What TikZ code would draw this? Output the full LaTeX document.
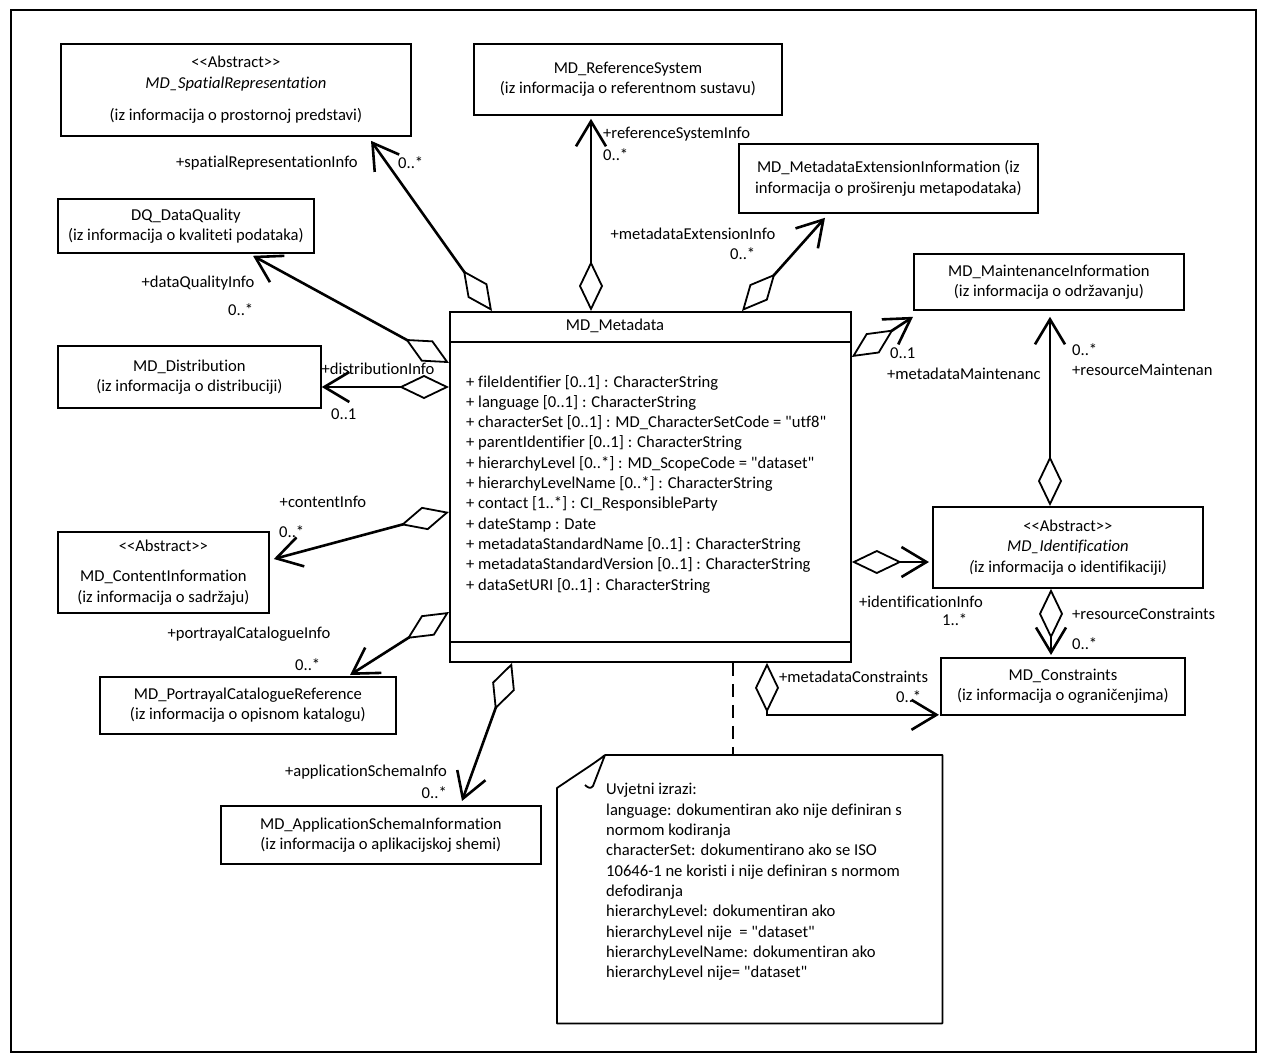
\documentclass[tikz,border=0pt]{standalone}
\usepackage{fontspec}
\setmainfont{Carlito}[Ligatures={TeXOff,NoCommon}]
\usetikzlibrary{arrows.meta,calc}
\begin{document}
\begin{tikzpicture}[x=1pt,y=-1pt,
  font=\fontsize{16.6}{20.3}\selectfont,
  box/.style={draw, line width=1.8pt, anchor=north west, inner sep=0pt, align=center},
  conn/.style={line width=2.6pt},
  agg/.style={conn, {Diamond[length=50pt,width=24pt,fill=white,line width=1.8pt]}-{Straight Barb[length=25pt,width=30pt,line width=2.6pt]}},
  lbl/.style={inner sep=0pt},
]
\useasboundingbox (0,0) rectangle (1262,1061);
\draw[line width=1.5pt] (11,10) rectangle (1256,1052);

% class boxes
\node[box, minimum width=350pt, minimum height=92pt] (spatial) at (60,43)
  {<<Abstract>>\\ \textit{MD\_SpatialRepresentation}\\[12pt] (iz informacija o prostornoj predstavi)};
\node[box, minimum width=308pt, minimum height=71pt] (refsys) at (473,43)
  {MD\_ReferenceSystem\\ (iz informacija o referentnom sustavu)};
\node[box, minimum width=299pt, minimum height=69pt] (ext) at (738,143)
  {MD\_MetadataExtensionInformation (iz\\ informacija o proširenju metapodataka)};
\node[box, minimum width=256pt, minimum height=54pt] (dq) at (57,198)
  {DQ\_DataQuality\\ (iz informacija o kvaliteti podataka)};
\node[box, minimum width=270pt, minimum height=56pt] (maint) at (913,253)
  {MD\_MaintenanceInformation\\ (iz informacija o održavanju)};
\node[box, minimum width=263pt, minimum height=62pt] (dist) at (57,345)
  {MD\_Distribution\\ (iz informacija o distribuciji)};
\node[box, minimum width=211pt, minimum height=81pt] (content) at (57,531)
  {<<Abstract>>\\[10pt] MD\_ContentInformation\\ (iz informacija o sadržaju)};
\node[box, minimum width=296pt, minimum height=57pt] (portr) at (99,676)
  {MD\_PortrayalCatalogueReference\\ (iz informacija o opisnom katalogu)};
\node[box, minimum width=320pt, minimum height=58pt] (appsch) at (220,805)
  {MD\_ApplicationSchemaInformation\\ (iz informacija o aplikacijskoj shemi)};
\node[box, minimum width=270pt, minimum height=81pt] (ident) at (932,506)
  {<<Abstract>>\\ \textit{MD\_Identification}\\ \textit{(}iz informacija o identifikaciji\textit{)}};
\node[box, minimum width=244pt, minimum height=57pt] (constr) at (940,657)
  {MD\_Constraints\\ (iz informacija o ograničenjima)};

% MD_Metadata class
\node[box, minimum width=401pt, minimum height=350pt] (meta) at (449,311) {};
\draw[line width=1.8pt] ($(meta.north west)+(0,31)$) -- ($(meta.north east)+(0,31)$);
\draw[line width=1.8pt] ($(meta.south west)+(0,-21)$) -- ($(meta.south east)+(0,-21)$);
\node[lbl] (metatitle) at (615,326) {MD\_Metadata};
\node[lbl, anchor=west, align=left] (metaattr) at (466,484) {%
+ fileIdentifier [0..1] : CharacterString\\
+ language [0..1] : CharacterString\\
+ characterSet [0..1] : MD\_CharacterSetCode = "utf8"\\
+ parentIdentifier [0..1] : CharacterString\\
+ hierarchyLevel [0..*] : MD\_ScopeCode = "dataset"\\
+ hierarchyLevelName [0..*] : CharacterString\\
+ contact [1..*] : CI\_ResponsibleParty\\
+ dateStamp : Date\\
+ metadataStandardName [0..1] : CharacterString\\
+ metadataStandardVersion [0..1] : CharacterString\\
+ dataSetURI [0..1] : CharacterString};

% note
\node[inner sep=0pt, minimum width=385pt, minimum height=268pt, anchor=north west] (note) at (557,755) {};
\draw[line width=1.8pt, line join=round]
  ($(note.north west)+(48,0)$) -- (note.north east) -- (note.south east) -- (note.south west)
  -- ($(note.north west)+(0,33)$) .. controls ($(note.north west)+(22,18)$) and ($(note.north west)+(38,8)$) .. ($(note.north west)+(48,0)$)
  -- ($(note.north west)+(36,31)$) .. controls ($(note.north west)+(34,34)$) and ($(note.north west)+(31,33)$) .. ($(note.north west)+(28,30)$);
\node[lbl, anchor=west, align=left] (notetext) at (606,882) {%
Uvjetni izrazi:\\
language: dokumentiran ako nije definiran s\\
normom kodiranja\\
characterSet: dokumentirano ako se ISO\\
10646-1 ne koristi i nije definiran s normom\\
defodiranja\\
hierarchyLevel: dokumentiran ako\\
hierarchyLevel nije \ = "dataset"\\
hierarchyLevelName: dokumentiran ako\\
hierarchyLevel nije= "dataset"};

% aggregations
\draw[agg] ($(meta.north west)+(43,0)$) -- ($(spatial.south west)+(311,4)$);
\draw[agg] ($(meta.north west)+(142,0)$) -- ($(refsys.south west)+(118,3)$);
\draw[agg] ($(meta.north west)+(293,0)$) -- ($(ext.south west)+(87,4)$);
\draw[agg] ($(meta.north west)+(0,52)$) -- ($(dq.south west)+(196,2)$);
\draw[agg] ($(meta.north west)+(0,76)$) -- ($(dist.north east)+(0,42)$);
\draw[agg] ($(meta.north west)+(0,201)$) -- ($(content.north east)+(4,28)$);
\draw[agg] ($(meta.north west)+(0,301)$) -- ($(portr.north west)+(251,-1)$);
\draw[agg] ($(meta.south west)+(63,0)$) -- ($(appsch.north west)+(242,-4)$);
\draw[agg] ($(meta.north east)+(0,46)$) -- ($(maint.south west)+(0,6)$);
\draw[agg] ($(ident.north west)+(118,0)$) -- ($(maint.south west)+(137,6)$);
\draw[agg] ($(meta.north east)+(0,251)$) -- ($(ident.north west)+(-3,56)$);
\draw[agg] ($(ident.south west)+(119,0)$) -- ($(constr.north west)+(111,-2)$);
\draw[agg] ($(meta.south west)+(318,0)$) |- ($(constr.south west)+(-1,-1)$);
\draw[line width=2pt, dash pattern=on 13pt off 8pt] ($(meta.south west)+(284,0)$) -- ($(note.north west)+(176,0)$);

% role labels and multiplicities
\node[lbl] (l1) at (267,163) {+spatialRepresentationInfo};
\node[lbl,anchor=west] (l2) at (398,163) {0..*};
\node[lbl] (l3) at (198,283) {+dataQualityInfo};
\node[lbl,anchor=west] (l4) at (228,310) {0..*};
\node[lbl] (l5) at (378,369) {+distributionInfo};
\node[lbl,anchor=west] (l6) at (331,414) {0..1};
\node[lbl] (l7) at (323,502) {+contentInfo};
\node[lbl,anchor=west] (l8) at (279,532) {0..*};
\node[lbl] (l9) at (249,634) {+portrayalCatalogueInfo};
\node[lbl,anchor=west] (l10) at (295,665) {0..*};
\node[lbl] (l11) at (366,772) {+applicationSchemaInfo};
\node[lbl,anchor=east] (l12) at (447,793) {0..*};
\node[lbl,anchor=west] (l13) at (603,134) {+referenceSystemInfo};
\node[lbl,anchor=west] (l14) at (603,155) {0..*};
\node[lbl] (l15) at (693,234) {+metadataExtensionInfo};
\node[lbl,anchor=west] (l16) at (730,254) {0..*};
\node[lbl,anchor=west] (l17) at (890,353) {0..1};
\node[lbl,anchor=west] (l18) at (887,374) {+metadataMaintenanc};
\node[lbl,anchor=west] (l19) at (1072,350) {0..*};
\node[lbl,anchor=west] (l20) at (1072,370) {+resourceMaintenan};
\node[lbl] (l21) at (921,602) {+identificationInfo};
\node[lbl,anchor=west] (l22) at (942,620) {1..*};
\node[lbl,anchor=west] (l23) at (1072,614) {+resourceConstraints};
\node[lbl,anchor=west] (l24) at (1072,644) {0..*};
\node[lbl,anchor=west] (l25) at (779,677) {+metadataConstraints};
\node[lbl,anchor=west] (l26) at (896,697) {0..*};
\end{tikzpicture}
\end{document}
